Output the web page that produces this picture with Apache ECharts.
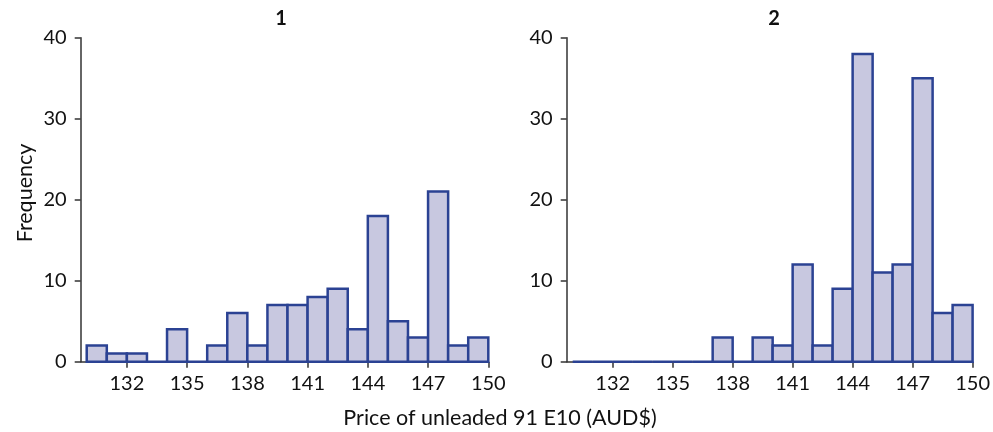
<!DOCTYPE html>
<html>
<head>
<meta charset="utf-8">
<script src="https://cdn.jsdelivr.net/npm/echarts@6/dist/echarts.min.js"></script>
<style>
html,body{margin:0;padding:0;background:#fff;}
#chart{width:993px;height:432px;}
</style>
</head>
<body>
<div id="chart"></div>
<script>
// Bin edges (AUD cents), 1-cent bins from 130 to 150
const binEdges = [130,131,132,133,134,135,136,137,138,139,140,141,142,143,144,145,146,147,148,149,150];
// Frequencies per bin, panel 1 and panel 2
const counts1 = [2,1,1,0,4,0,2,6,2,7,7,8,9,4,18,5,3,21,2,3];
const counts2 = [0,0,0,0,0,0,0,3,0,3,2,12,2,9,38,11,12,35,6,7];
const xTicks = [132,135,138,141,144,147,150];
const yTicks = [0,10,20,30,40];
const panelTitles = ['1','2'];
const xAxisTitle = 'Price of unleaded 91 E10 (AUD$)';
const yAxisTitle = 'Frequency';

const FONT = 'Lato';
const fillC = '#c8c8e0';
const strokeC = '#2b4293';
const axisC = '#333';

function toData(counts){
  return counts.map((c,i)=>[binEdges[i], binEdges[i+1], c]);
}
function renderItem(params, api){
  const p0 = api.coord([api.value(0), api.value(2)]);
  const p1 = api.coord([api.value(1), 0]);
  return {
    type:'rect',
    shape:{x:p0[0], y:p0[1], width:p1[0]-p0[0], height:p1[1]-p0[1]},
    style:{fill:fillC, stroke:strokeC, lineWidth:2.5}
  };
}
const grids = [
  {left:80.7, top:37.7, width:407.6, height:324},
  {left:566.7, top:37.7, width:408.3, height:324}
];
function xAxis(i){
  return {
    type:'value', gridIndex:i, min:129.7, max:150,
    splitLine:{show:false},
    axisLine:{show:true, onZero:false, lineStyle:{color:axisC, width:1.5}},
    axisTick:{show:true, length:6, customValues:xTicks, lineStyle:{color:axisC, width:1.5}},
    axisLabel:{customValues:xTicks, color:'#111', fontSize:20, fontFamily:FONT, margin:12}
  };
}
function yAxis(i){
  return {
    type:'value', gridIndex:i, min:0, max:40, interval:10,
    splitLine:{show:false},
    axisLine:{show:true, lineStyle:{color:axisC, width:1.5}},
    axisTick:{show:true, length:6, customValues:yTicks, lineStyle:{color:axisC, width:1.5}},
    axisLabel:{customValues:yTicks, color:'#111', fontSize:20, fontFamily:FONT, margin:14}
  };
}
const chart = echarts.init(document.getElementById('chart'), null, {renderer:'canvas'});
chart.setOption({
  animation:false,
  grid:grids,
  xAxis:[xAxis(0), xAxis(1)],
  yAxis:[yAxis(0), yAxis(1)],
  series:[
    {type:'custom', xAxisIndex:0, yAxisIndex:0, renderItem, data:toData(counts1), clip:false},
    {type:'custom', xAxisIndex:1, yAxisIndex:1, renderItem, data:toData(counts2), clip:false}
  ],
  graphic:[
    {type:'text', x:281, y:19, style:{text:panelTitles[0], font:'bold 20px '+FONT, fill:'#111', align:'center', verticalAlign:'middle'}},
    {type:'text', x:774, y:19, style:{text:panelTitles[1], font:'bold 20px '+FONT, fill:'#111', align:'center', verticalAlign:'middle'}},
    {type:'text', x:500, y:418, style:{text:xAxisTitle, font:'21.5px '+FONT, fill:'#111', align:'center', verticalAlign:'middle'}},
    {type:'text', x:25, y:193, rotation:Math.PI/2, style:{text:yAxisTitle, font:'21.5px '+FONT, fill:'#111', align:'center', verticalAlign:'middle'}}
  ]
});
</script>
</body>
</html>
